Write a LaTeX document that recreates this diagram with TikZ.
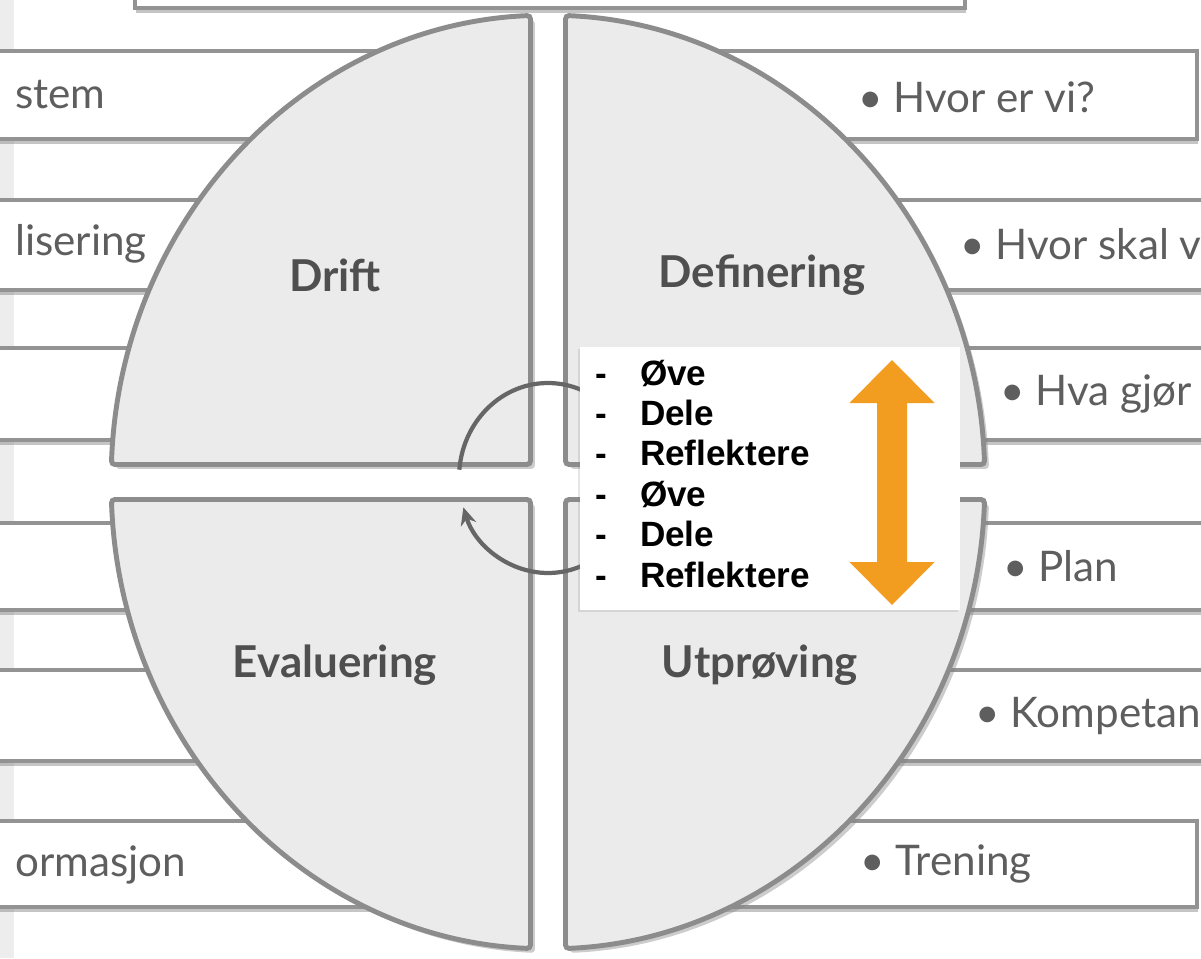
\documentclass[tikz,border=0pt]{standalone}
\usepackage{fontspec}
\usepackage{xcolor}
\usetikzlibrary{shadows,arrows.meta}
\newfontfamily\gillfont{Lato}
\newfontfamily\listfont{Liberation Sans}
\definecolor{quadfill}{HTML}{EBEBEB}
\definecolor{quadline}{HTML}{8C8C8C}
\definecolor{barline}{HTML}{939393}
\definecolor{labelgray}{HTML}{4F4F4F}
\definecolor{textgray}{HTML}{5E5E5E}
\definecolor{arroworange}{HTML}{F29D1F}
\definecolor{stripgray}{HTML}{EDEDED}
\definecolor{loopgray}{HTML}{666666}

\begin{document}
\begin{tikzpicture}[x=0.02cm, y=0.02cm,
    bar/.style={fill=white, draw=barline, line width=2.4pt,
      drop shadow={shadow xshift=0.6pt, shadow yshift=-2.6pt, opacity=0.45}},
    quadrant/.style={fill=quadfill, draw=quadline, line width=2.8pt,
      rounded corners=2pt,
      drop shadow={shadow xshift=2.5pt, shadow yshift=-2.5pt, opacity=0.4}},
    quadlabel/.style={font=\gillfont\bfseries\fontsize{25}{30}\selectfont,
      text=labelgray},
    bartext/.style={font=\gillfont\fontsize{24}{28}\selectfont,
      text=textgray, anchor=west, inner sep=0pt}]
    \clip (-548,-476) rectangle (653,482);
    \fill[white] (-548,-476) rectangle (653,482);
    \fill[stripgray] (-548,-476) rectangle (-534,482);

    % Bars
    \draw[bar] (-413,474) rectangle (417,560);
    \foreach \ya/\yb in {431/343, 282/192, 134/42, -41/-128, -188/-279,
        -339/-425} {
        \draw[bar] (-600,\ya) rectangle (-150,\yb);
      }
    \foreach \ya/\yb/\xe in {431/343/649, 282/192/720, 134/42/720,
        -41/-128/720, -188/-279/720, -339/-425/649} {
        \draw[bar] (150,\ya) rectangle (\xe,\yb);
      }

    % Bar texts
    \node (stem) [bartext] at (-533,387) {stem};
    \node (lisering) [bartext] at (-533,238) {lisering};
    \node (ormasjon) [bartext] at (-533,-383) {ormasjon};
    \node (hvorer) [bartext] at (310,385) {• Hvor er vi?};
    \node (hvorskal) [bartext] at (412,238) {• Hvor skal v};
    \node (hvagjor) [bartext] at (452,88) {• Hva gjør};
    \node (plan) [bartext] at (455,-84) {• Plan};
    \node (kompetan) [bartext] at (427,-234) {• Kompetan};
    \node (trening) [bartext] at (312,-382) {• Trening};

    % Quadrants
    \draw[quadrant] (-17.5,17.5) -- (92.3:8.74cm and 9.34cm)
      arc[start angle=92.3, end angle=177.85, x radius=8.74cm,
        y radius=9.34cm] -- cycle;
    \draw[quadrant] (17.5,17.5) -- (2.15:8.74cm and 9.34cm)
      arc[start angle=2.15, end angle=87.7, x radius=8.74cm,
        y radius=9.34cm] -- cycle;
    \draw[quadrant] (-17.5,-17.5) -- (182.15:8.74cm and 9.34cm)
      arc[start angle=182.15, end angle=267.7, x radius=8.74cm,
        y radius=9.34cm] -- cycle;
    \draw[quadrant] (17.5,-17.5) -- (272.3:8.74cm and 9.34cm)
      arc[start angle=272.3, end angle=357.85, x radius=8.74cm,
        y radius=9.34cm] -- cycle;

    \node (drift) [quadlabel] at (-213,207) {Drift};
    \node (definering) [quadlabel] at (214,207) {Definering};
    \node (evaluering) [quadlabel] at (-213,-183) {Evaluering};
    \node (utproving) [quadlabel] at (212,-183) {Utprøving};

    % Loop
    \draw[loopgray, line width=2.4pt, -{Stealth[length=10pt, width=9pt]}]
    (0,4) ++(175:1.78cm and 1.9cm)
    arc[start angle=175, end angle=-162, x radius=1.78cm, y radius=1.9cm];

    % Overlay
    \fill[white, drop shadow={shadow xshift=-1pt, shadow yshift=-1pt,
          opacity=0.2}] (32,135) rectangle (412,-128);
    \node (steps) [anchor=west, inner sep=0pt,
      font=\listfont\bfseries\fontsize{20}{23}\selectfont] at (47,4)
    {\begin{tabular}{@{}l@{\hspace{0.66cm}}l@{}}
        - & Øve        \\
        - & Dele       \\
        - & Reflektere \\
        - & Øve        \\
        - & Dele       \\
        - & Reflektere
      \end{tabular}};
    \fill[arroworange] (344,122) -- (386.5,79) -- (359,79) -- (359,-80)
    -- (386.5,-80) -- (344,-123) -- (301.5,-80) -- (329,-80) -- (329,79)
    -- (301.5,79) -- cycle;
  \end{tikzpicture}
\end{document}
